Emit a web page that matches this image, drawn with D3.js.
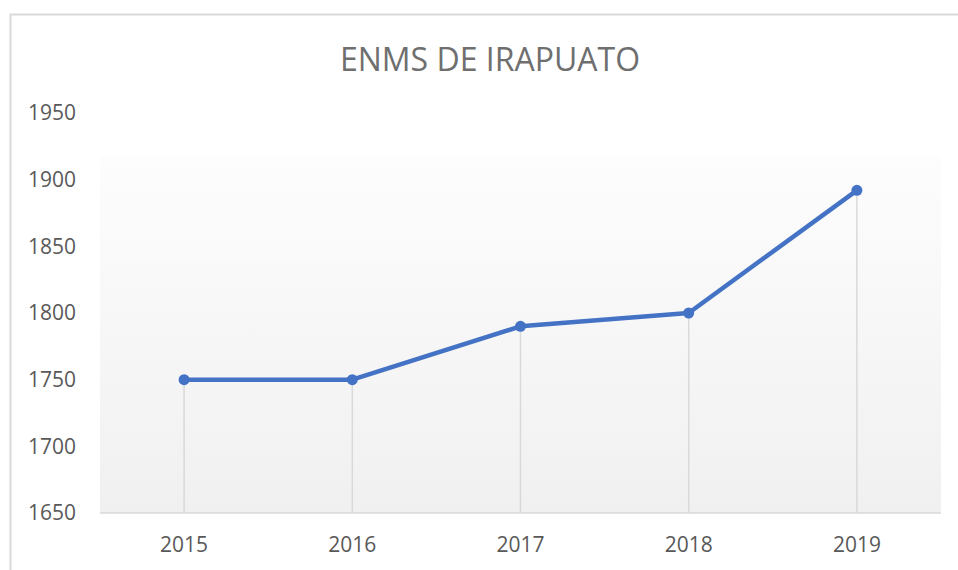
<!DOCTYPE html>
<html>
<head>
<meta charset="utf-8">
<script src="https://cdn.jsdelivr.net/npm/d3@7"></script>
<style>
  body { margin: 0; background: #fff; }
  svg { display: block; font-family: "Open Sans", "Liberation Sans", sans-serif; }
</style>
</head>
<body>
<div id="chart"></div>
<script>
const years = ["2015", "2016", "2017", "2018", "2019"];
const values = [1750, 1750, 1790, 1800, 1892];
const yTicks = [1650, 1700, 1750, 1800, 1850, 1900, 1950];
const title = "ENMS DE IRAPUATO";

const width = 958, height = 570;
const margin = {top: 113, right: 17, bottom: 57, left: 100};

const svg = d3.select('#chart').append('svg')
    .attr('width', width)
    .attr('height', height);

// chart frame (only top + left edges visible in the capture)
svg.append('path')
    .attr('d', 'M10.5,570 V14.5 H958')
    .attr('fill', 'none')
    .attr('stroke', '#d9d9d9')
    .attr('stroke-width', 2);

const x = d3.scaleBand()
    .domain(years)
    .range([margin.left, width - margin.right]);

const y = d3.scaleLinear()
    .domain([1650, 1950])
    .range([height - margin.bottom, margin.top]);

// plot area gradient
const defs = svg.append('defs');
const grad = defs.append('linearGradient')
    .attr('id', 'bg').attr('x1', 0).attr('x2', 0).attr('y1', 0).attr('y2', 1);
grad.append('stop').attr('offset', '0%').attr('stop-color', '#fdfdfd');
grad.append('stop').attr('offset', '100%').attr('stop-color', '#f0f0f0');

const bgTop = 157;
svg.append('rect')
    .attr('x', margin.left)
    .attr('y', bgTop)
    .attr('width', width - margin.right - margin.left)
    .attr('height', y(1650) - bgTop)
    .attr('fill', 'url(#bg)');

// title
svg.append('text')
    .attr('x', 490)
    .attr('y', 71)
    .attr('text-anchor', 'middle')
    .attr('fill', '#6f6f6f')
    .style('font-size', '32px')
    .text(title);

// y axis labels
svg.selectAll('.ylab')
    .data(yTicks)
    .enter().append('text')
    .attr('class', 'ylab')
    .attr('x', 28)
    .attr('y', d => y(d))
    .attr('dy', '0.35em')
    .attr('fill', '#595959')
    .style('font-size', '21px')
    .text(d => d);

// x axis labels
svg.selectAll('.xlab')
    .data(years)
    .enter().append('text')
    .attr('class', 'xlab')
    .attr('x', d => x(d) + x.bandwidth() / 2)
    .attr('y', 545)
    .attr('dy', '0.35em')
    .attr('text-anchor', 'middle')
    .attr('fill', '#595959')
    .style('font-size', '21px')
    .text(d => d);

const pts = years.map((yr, i) => ({yr: yr, v: values[i]}));

// drop lines
svg.selectAll('.drop')
    .data(pts)
    .enter().append('line')
    .attr('class', 'drop')
    .attr('x1', d => x(d.yr) + x.bandwidth() / 2)
    .attr('x2', d => x(d.yr) + x.bandwidth() / 2)
    .attr('y1', d => y(d.v))
    .attr('y2', y(1650))
    .attr('stroke', '#d9d9d9')
    .attr('stroke-width', 1.5);

// bottom axis line
svg.append('line')
    .attr('x1', margin.left)
    .attr('x2', width - margin.right)
    .attr('y1', y(1650))
    .attr('y2', y(1650))
    .attr('stroke', '#d9d9d9')
    .attr('stroke-width', 1.5);

const line = d3.line()
    .x(d => x(d.yr) + x.bandwidth() / 2)
    .y(d => y(d.v));

svg.append('path')
    .datum(pts)
    .attr('d', line)
    .attr('fill', 'none')
    .attr('stroke', '#4472c4')
    .attr('stroke-width', 4.5)
    .attr('stroke-linejoin', 'round');

svg.selectAll('.dot')
    .data(pts)
    .enter().append('circle')
    .attr('class', 'dot')
    .attr('cx', d => x(d.yr) + x.bandwidth() / 2)
    .attr('cy', d => y(d.v))
    .attr('r', 5.5)
    .attr('fill', '#4472c4');
</script>
</body>
</html>
